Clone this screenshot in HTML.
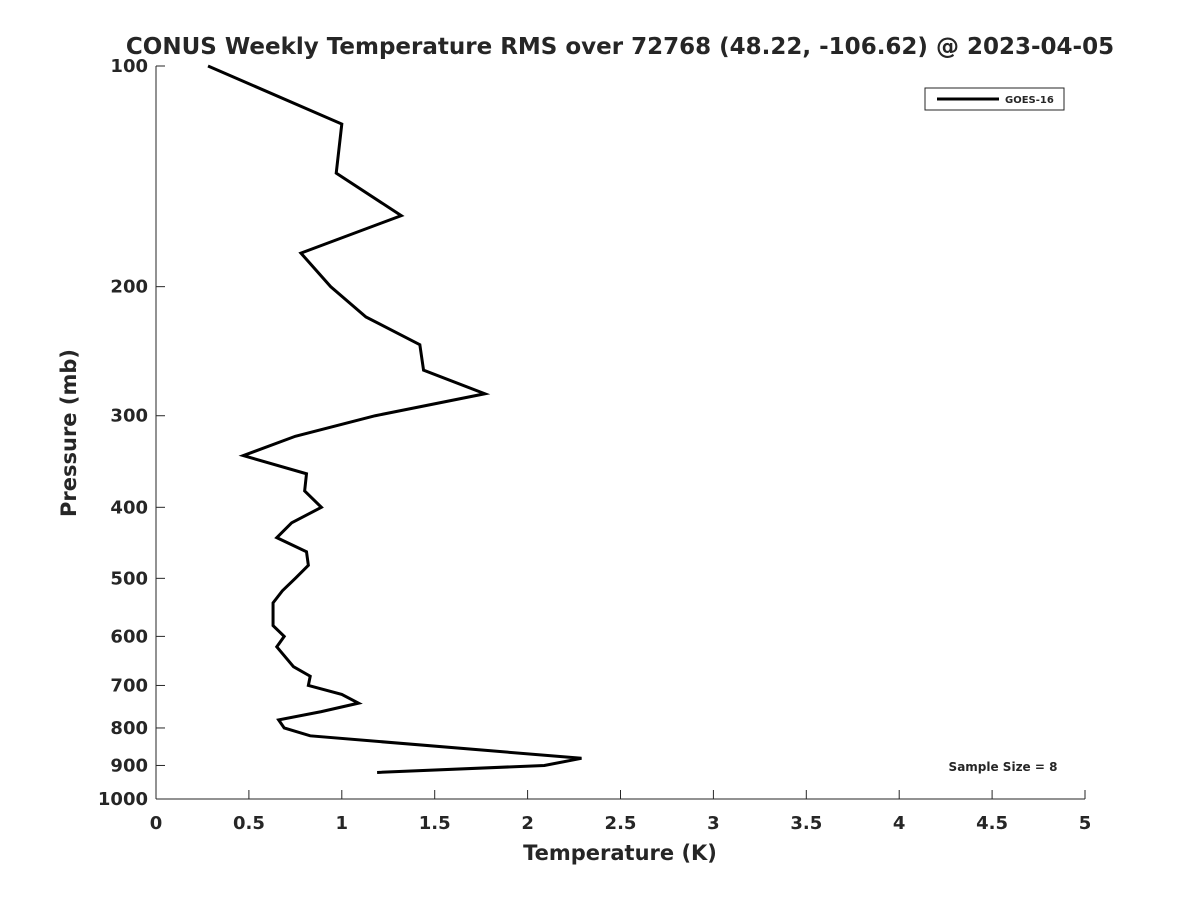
<!DOCTYPE html>
<html><head><meta charset="utf-8"><style>
body{margin:0;background:#fff;font-family:"Liberation Sans","DejaVu Sans",sans-serif;}
svg text{font-family:"DejaVu Sans","Liberation Sans",sans-serif;font-weight:bold;fill:#262626;}
</style></head><body>
<svg id="chart" width="1200" height="900">
<text x="620" y="54" font-size="23" text-anchor="middle" fill="#000">CONUS Weekly Temperature RMS over 72768 (48.22, -106.62) @ 2023-04-05</text>
<g id="axes"></g>
<polyline id="line" fill="none" stroke="#000" stroke-width="3"/>
<g>
<rect x="925" y="88" width="139" height="22" fill="#fff" stroke="#262626" stroke-width="1"/>
<line x1="937" y1="99" x2="999" y2="99" stroke="#000" stroke-width="3"/>
<text x="1005" y="103" font-size="10" fill="#000">GOES-16</text>
</g>
<text x="1003" y="771" font-size="12" text-anchor="middle" fill="#000">Sample Size = 8</text>
<text x="620" y="860" font-size="21" text-anchor="middle">Temperature (K)</text>
<text transform="translate(76,433) rotate(-90)" font-size="21" text-anchor="middle">Pressure (mb)</text>
</svg>
<script>
const temps=[0.28,1.0,0.97,1.32,0.78,0.94,1.13,1.42,1.44,1.77,1.18,0.75,0.47,0.81,0.80,0.89,0.73,0.65,0.81,0.82,0.75,0.68,0.63,0.63,0.69,0.65,0.74,0.83,0.82,1.0,1.09,0.89,0.66,0.69,0.83,2.29,2.09,1.19];
const pressures=[100,120,140,160,180,200,220,240,260,280,300,320,340,360,380,400,420,440,460,480,500,520,540,580,600,620,660,680,700,720,740,760,780,800,820,880,900,920];
const xTicks=[0,0.5,1,1.5,2,2.5,3,3.5,4,4.5,5];
const xTickLabels=["0","0.5","1","1.5","2","2.5","3","3.5","4","4.5","5"];
const yTicks=[100,200,300,400,500,600,700,800,900,1000];
const X0=156,X1=1085,Y0=66,Y1=799;
function xs(v){return X0+(v-0)/(5-0)*(X1-X0);}
function ys(p){return Y0+(Math.log10(p)-2)/(1)*(Y1-Y0);}
const NS="http://www.w3.org/2000/svg";
const g=document.getElementById('axes');
function mk(t,a){const e=document.createElementNS(NS,t);for(const k in a)e.setAttribute(k,a[k]);g.appendChild(e);return e;}
const ax=mk('line',{x1:X0,y1:Y1,x2:X1,y2:Y1,stroke:'#262626','stroke-width':1});


const ay=mk('line',{x1:X0,y1:Y0,x2:X0,y2:Y1,stroke:'#262626','stroke-width':1});


xTicks.forEach((v,i)=>{
 mk('line',{x1:xs(v),y1:Y1,x2:xs(v),y2:Y1-9,stroke:'#262626'});
 const t=mk('text',{x:xs(v),y:Y1+30,'font-size':18,'text-anchor':'middle'});
 t.textContent=xTickLabels[i];
 
 
});
yTicks.forEach(p=>{
 mk('line',{x1:X0,y1:ys(p),x2:X0+9,y2:ys(p),stroke:'#262626'});
 const t=mk('text',{x:X0-8,y:ys(p)+6,'font-size':18,'text-anchor':'end'});
 t.textContent=String(p);
 
 
});
document.getElementById('line').setAttribute('points',temps.map((t,i)=>xs(t)+','+ys(pressures[i])).join(' '));
</script>
</body></html>
